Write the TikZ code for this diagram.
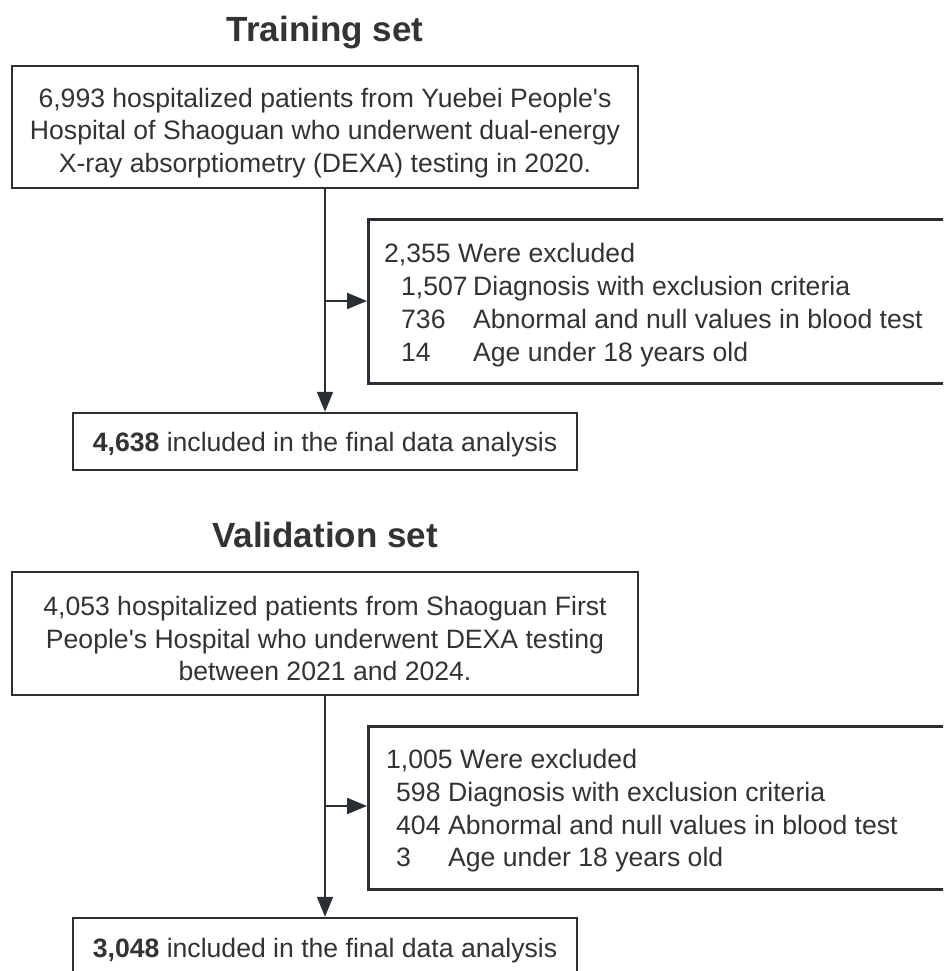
\documentclass[tikz,border=0pt]{standalone}
\usepackage{fontspec}
\setmainfont{Liberation Sans}
\usetikzlibrary{arrows.meta}
\definecolor{ink}{HTML}{333333}
\definecolor{edge}{HTML}{2B2F33}
\newcommand{\bodyfont}{\fontsize{26.6}{32.8}\selectfont}
\newcommand{\titlefont}{\fontsize{35}{42}\selectfont\bfseries}
\newcommand{\ap}{\textquotesingle}
\begin{document}
\begin{tikzpicture}[x=1pt,y=-1pt,
  box/.style={draw=edge, line width=2.5pt, inner sep=0pt},
  txt/.style={text=ink, font=\bodyfont, inner sep=0pt},
  ttl/.style={text=ink, font=\titlefont, anchor=base, inner sep=0pt},
  conn/.style={draw=edge, line width=2.2pt, -{Triangle[length=20pt,width=16pt]}}
]
\useasboundingbox (0,0) rectangle (943,971);
\clip (0,0) rectangle (943,971);
\fill[white] (0,0) rectangle (943,971);

% Training set
\node[ttl] (t1) at (325,41.5) {Training set};
\node[box, minimum width=626pt, minimum height=122pt] (b1) at (325,127) {};
\node[txt, align=center, yshift=-6pt] (b1t) at (b1.center)
  {6,993 hospitalized patients from Yuebei People\ap s\\
   Hospital of Shaoguan who underwent dual-energy\\
   X-ray absorptiometry (DEXA) testing in 2020.};
\node[box, anchor=north west, minimum width=620pt, minimum height=164pt] (e1) at (367,218) {};
\node[txt, anchor=west, align=left, xshift=17pt, yshift=-4pt] (e1t) at (e1.west)
  {2,355 Were excluded\\
   \hspace*{17pt}\makebox[72pt][l]{1,507}Diagnosis with exclusion criteria\\
   \hspace*{17pt}\makebox[72pt][l]{736}Abnormal and null values in blood test\\
   \hspace*{17pt}\makebox[72pt][l]{14}Age under 18 years old};
\node[box, minimum width=504pt, minimum height=57pt] (f1) at (325,441.5) {};
\node[txt, yshift=-3pt] (f1t) at (f1.center)
  {\textbf{4,638} included in the final data analysis};
\coordinate (j1) at (325,301);
\draw[conn] (b1.south) -- (f1.north);
\draw[conn] (j1) -- (j1 -| e1.west);

% Validation set
\node[ttl] (t2) at (325,547.5) {Validation set};
\node[box, minimum width=626pt, minimum height=123pt] (b2) at (325,633.5) {};
\node[txt, align=center, yshift=-5pt] (b2t) at (b2.center)
  {4,053 hospitalized patients from Shaoguan First\\
   People\ap s Hospital who underwent DEXA testing\\
   between 2021 and 2024.};
\node[box, anchor=north west, minimum width=620pt, minimum height=163pt] (e2) at (367,725) {};
\node[txt, anchor=west, align=left, xshift=19pt, yshift=-3pt] (e2t) at (e2.west)
  {1,005 Were excluded\\
   \hspace*{10pt}\makebox[52pt][l]{598}Diagnosis with exclusion criteria\\
   \hspace*{10pt}\makebox[52pt][l]{404}Abnormal and null values in blood test\\
   \hspace*{10pt}\makebox[52pt][l]{3}Age under 18 years old};
\node[box, minimum width=504pt, minimum height=58pt] (f2) at (325,947) {};
\node[txt, yshift=-4pt] (f2t) at (f2.center)
  {\textbf{3,048} included in the final data analysis};
\coordinate (j2) at (325,806);
\draw[conn] (b2.south) -- (f2.north);
\draw[conn] (j2) -- (j2 -| e2.west);
\end{tikzpicture}
\end{document}
